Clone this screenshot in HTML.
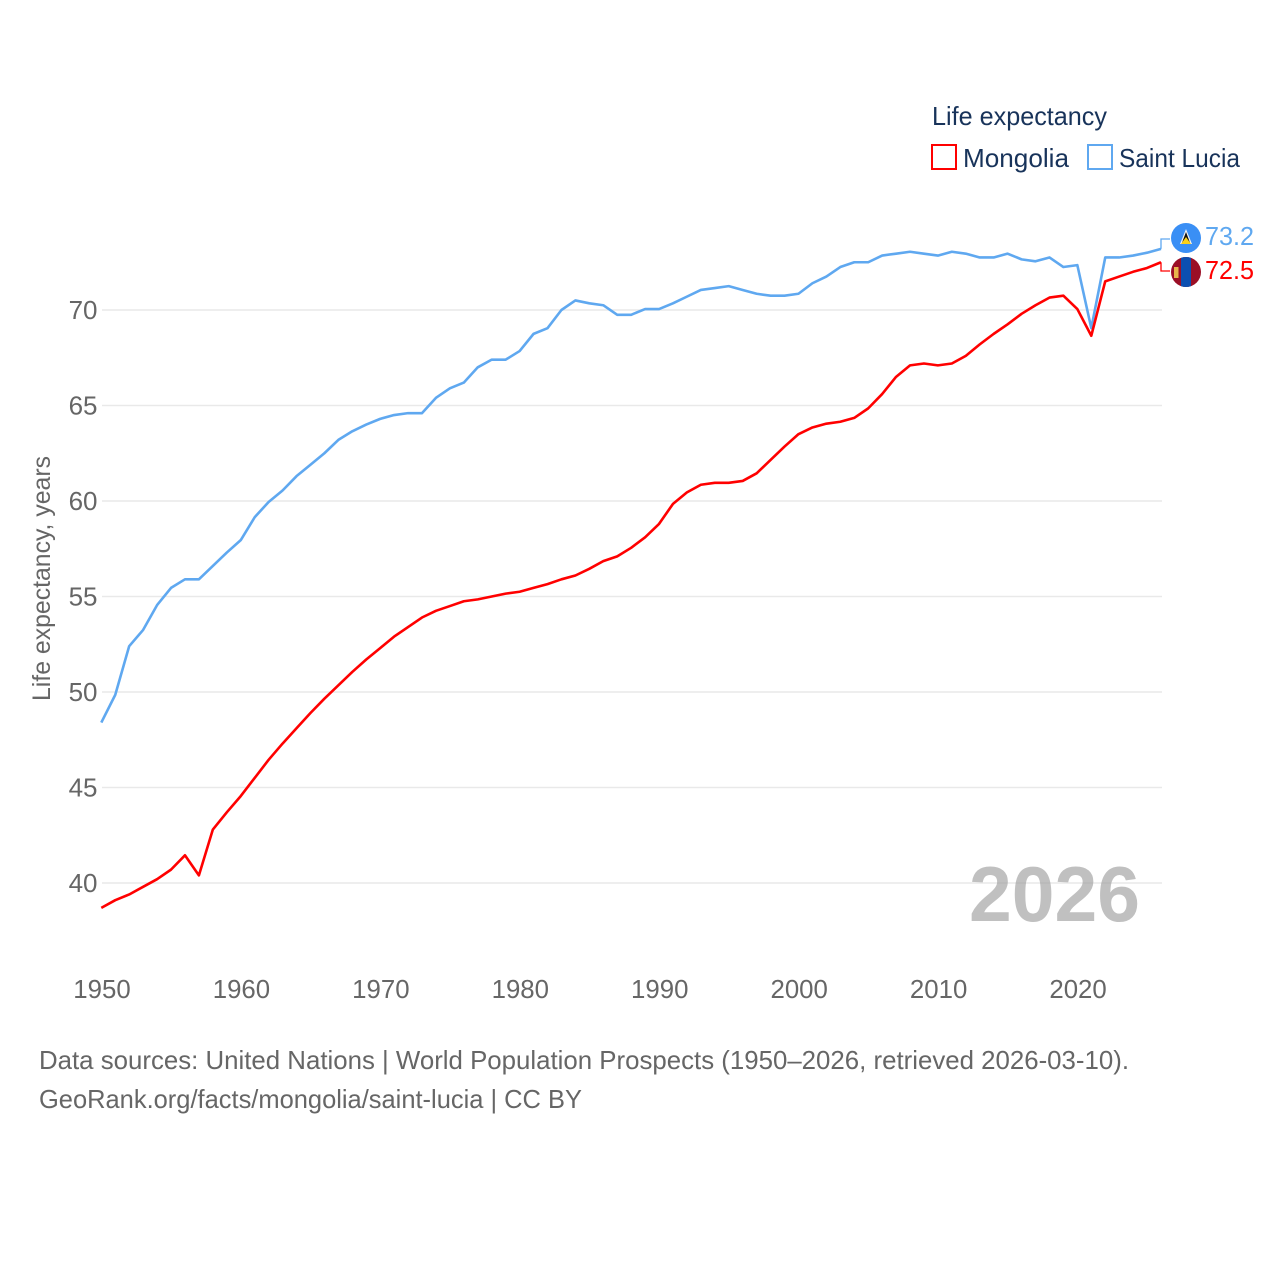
<!DOCTYPE html>
<html lang="en">
<head>
<meta charset="utf-8">
<title>Life expectancy: Mongolia and Saint Lucia</title>
<style>
  html, body { margin: 0; padding: 0; background: #fff; }
  svg { display: block; font-family: "Liberation Sans", sans-serif; }
</style>
</head>
<body>
<svg id="chart" width="1280" height="1280" viewBox="0 0 1280 1280" xmlns="http://www.w3.org/2000/svg">
  <rect x="0" y="0" width="1280" height="1280" fill="#ffffff"/>
  <g id="grid"></g>
  <g id="y-labels"></g>
  <g id="x-labels"></g>
  <text transform="translate(50,701) rotate(-90)" font-size="25" fill="#666666" textLength="245" lengthAdjust="spacingAndGlyphs">Life expectancy, years</text>

  <g>
    <text x="932" y="125" font-size="26" fill="#18335a" textLength="175" lengthAdjust="spacingAndGlyphs">Life expectancy</text>
    <rect x="932" y="145" width="24" height="24" fill="#fff" stroke="#ff0000" stroke-width="2"/>
    <text x="963" y="167" font-size="26" fill="#18335a" textLength="106" lengthAdjust="spacingAndGlyphs">Mongolia</text>
    <rect x="1088" y="145" width="24" height="24" fill="#fff" stroke="#5fa8f0" stroke-width="2"/>
    <text x="1119" y="167" font-size="26" fill="#18335a" textLength="121" lengthAdjust="spacingAndGlyphs">Saint Lucia</text>
  </g>

  <g id="series"></g>

  <text id="year-label" x="969" y="921" font-size="78" font-weight="700" fill="#999999" fill-opacity="0.62" textLength="171" lengthAdjust="spacingAndGlyphs">2026</text>

  <g>
    <g>
      <circle cx="1186" cy="238" r="15" fill="#3a8ff5"/>
      <polygon points="1186,229 1192,244 1180,244" fill="#f2f2f2"/>
      <polygon points="1186,232 1190.5,244 1181.5,244" fill="#111111"/>
      <polygon points="1186,237 1191,244 1181,244" fill="#fcd116"/>
    </g>
    <g>
      <clipPath id="mn-clip"><circle cx="1186" cy="272" r="15"/></clipPath>
      <g clip-path="url(#mn-clip)">
        <rect x="1171" y="257" width="30" height="30" fill="#9b0f26"/>
        <rect x="1181" y="257" width="10" height="30" fill="#0b4fb0"/>
        <rect x="1174" y="267" width="4.5" height="11" fill="#e8b64c"/>
      </g>
    </g>
    <text id="end-value-saint-lucia" x="1205" y="245" font-size="26" fill="#5fa8f0" textLength="49" lengthAdjust="spacingAndGlyphs"></text>
    <text id="end-value-mongolia" x="1205" y="279" font-size="26" fill="#ff0000" textLength="49" lengthAdjust="spacingAndGlyphs"></text>
  </g>

  <g>
    <text x="39" y="1069" font-size="26" fill="#666666" textLength="1090" lengthAdjust="spacingAndGlyphs">Data sources: United Nations | World Population Prospects (1950–2026, retrieved 2026-03-10).</text>
    <text x="39" y="1108" font-size="26" fill="#666666" textLength="543" lengthAdjust="spacingAndGlyphs">GeoRank.org/facts/mongolia/saint-lucia | CC BY</text>
  </g>
</svg>
<script>
const startYear = 1950;
const xTicks = [1950, 1960, 1970, 1980, 1990, 2000, 2010, 2020];
const yTicks = [40, 45, 50, 55, 60, 65, 70];
const mongolia = [
  38.7, 39.1, 39.4, 39.8, 40.2, 40.7, 41.45, 40.4, 42.8, 43.7,
  44.55, 45.5, 46.45, 47.3, 48.1, 48.9, 49.65, 50.35, 51.05, 51.7,
  52.3, 52.9, 53.4, 53.9, 54.25, 54.5, 54.75, 54.85, 55, 55.15,
  55.25, 55.45, 55.65, 55.9, 56.1, 56.45, 56.85, 57.1, 57.55, 58.1,
  58.8, 59.85, 60.45, 60.85, 60.95, 60.95, 61.05, 61.45, 62.15, 62.85,
  63.5, 63.85, 64.05, 64.15, 64.35, 64.85, 65.6, 66.5, 67.1, 67.2,
  67.1, 67.2, 67.6, 68.2, 68.75, 69.25, 69.8, 70.25, 70.65, 70.75,
  70.05, 68.65, 71.5, 71.75, 72, 72.2, 72.5
];
const saintLucia = [
  48.4, 49.85, 52.4, 53.25, 54.55, 55.45, 55.9, 55.9, 56.6, 57.3,
  57.95, 59.15, 59.95, 60.55, 61.3, 61.9, 62.5, 63.2, 63.65, 64,
  64.3, 64.5, 64.6, 64.6, 65.4, 65.9, 66.2, 67, 67.4, 67.4,
  67.85, 68.75, 69.05, 70, 70.5, 70.35, 70.25, 69.75, 69.75, 70.05,
  70.05, 70.35, 70.7, 71.05, 71.15, 71.25, 71.05, 70.85, 70.75, 70.75,
  70.85, 71.4, 71.75, 72.25, 72.5, 72.5, 72.85, 72.95, 73.05, 72.95,
  72.85, 73.05, 72.95, 72.75, 72.75, 72.95, 72.65, 72.55, 72.75, 72.25,
  72.35, 69.05, 72.75, 72.75, 72.85, 73, 73.2
];

const NS = 'http://www.w3.org/2000/svg';
const xScale = function (year) { return 101.3 + (year - 1950) * (1161 - 101.3) / 76; };
const yScale = function (value) { return 883 - (value - 40) * (883 - 310) / 30; };

const grid = document.getElementById('grid');
const yLabels = document.getElementById('y-labels');
const xLabels = document.getElementById('x-labels');
const seriesGroup = document.getElementById('series');

yTicks.forEach(function (tick) {
  const line = document.createElementNS(NS, 'line');
  
  
  line.setAttribute('x1', 102);
  line.setAttribute('x2', 1162);
  line.setAttribute('y1', yScale(tick));
  line.setAttribute('y2', yScale(tick));
  line.setAttribute('stroke', '#e9e9e9');
  line.setAttribute('stroke-width', '1.5');
  grid.appendChild(line);

  const label = document.createElementNS(NS, 'text');
  
  
  label.setAttribute('x', 97.5);
  label.setAttribute('y', yScale(tick) + 9);
  label.setAttribute('text-anchor', 'end');
  label.setAttribute('font-size', '26');
  label.setAttribute('fill', '#666666');
  label.textContent = String(tick);
  yLabels.appendChild(label);
});

xTicks.forEach(function (tick) {
  const label = document.createElementNS(NS, 'text');
  
  
  label.setAttribute('x', xScale(tick) + 0.7);
  label.setAttribute('y', 998);
  label.setAttribute('text-anchor', 'middle');
  label.setAttribute('font-size', '25.8');
  label.setAttribute('fill', '#666666');
  label.textContent = String(tick);
  xLabels.appendChild(label);
});

function pointsFor(values) {
  return values.map(function (v, i) {
    return xScale(startYear + i).toFixed(2) + ',' + yScale(v).toFixed(2);
  }).join(' ');
}

function connectorFor(values, targetY) {
  const lastX = xScale(startYear + values.length - 1);
  const lastY = yScale(values[values.length - 1]);
  return lastX + ',' + lastY + ' ' + lastX + ',' + targetY + ' ' + (lastX + 9) + ',' + targetY;
}

const lucLine = document.createElementNS(NS, 'polyline');


lucLine.setAttribute('points', pointsFor(saintLucia));
lucLine.setAttribute('fill', 'none');
lucLine.setAttribute('stroke', '#5fa8f0');
lucLine.setAttribute('stroke-width', '2.6');
lucLine.setAttribute('stroke-linejoin', 'round');
seriesGroup.appendChild(lucLine);

const monLine = document.createElementNS(NS, 'polyline');


monLine.setAttribute('points', pointsFor(mongolia));
monLine.setAttribute('fill', 'none');
monLine.setAttribute('stroke', '#ff0000');
monLine.setAttribute('stroke-width', '2.6');
monLine.setAttribute('stroke-linejoin', 'round');
seriesGroup.appendChild(monLine);

const lucConnector = document.createElementNS(NS, 'polyline');


lucConnector.setAttribute('points', connectorFor(saintLucia, 239));
lucConnector.setAttribute('fill', 'none');
lucConnector.setAttribute('stroke', '#5fa8f0');
lucConnector.setAttribute('stroke-width', '1.3');
seriesGroup.appendChild(lucConnector);

const monConnector = document.createElementNS(NS, 'polyline');


monConnector.setAttribute('points', connectorFor(mongolia, 271));
monConnector.setAttribute('fill', 'none');
monConnector.setAttribute('stroke', '#ff0000');
monConnector.setAttribute('stroke-width', '1.3');
seriesGroup.appendChild(monConnector);

document.getElementById('end-value-saint-lucia').textContent = saintLucia[saintLucia.length - 1].toFixed(1);
document.getElementById('end-value-mongolia').textContent = mongolia[mongolia.length - 1].toFixed(1);
</script>
</body>
</html>
